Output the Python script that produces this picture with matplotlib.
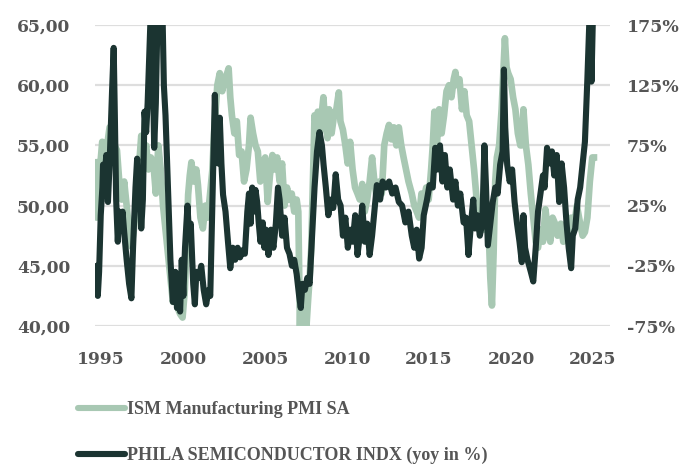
import matplotlib
matplotlib.use("Agg")
import matplotlib.pyplot as plt
from matplotlib.ticker import FixedLocator, FuncFormatter

plt.rcParams['axes.unicode_minus'] = False

# ---------------- data ----------------
ism_dates = [1994.66, 1994.73, 1994.83, 1994.93, 1995.07, 1995.22, 1995.37, 1995.52, 1995.67, 1995.82,
             1995.97, 1996.11, 1996.26, 1996.41, 1996.56, 1996.71, 1996.85, 1997.00, 1997.15, 1997.30,
             1997.45, 1997.60, 1997.75, 1997.89, 1998.04, 1998.19, 1998.34, 1998.49, 1998.64, 1998.78,
             1998.93, 1999.08, 1999.23, 1999.38, 1999.52, 1999.67, 1999.82, 1999.97, 2000.11, 2000.21,
             2000.31, 2000.41, 2000.51, 2000.66, 2000.81, 2000.91, 2001.06, 2001.21, 2001.36, 2001.51,
             2001.65, 2001.79, 2001.89, 2001.99, 2002.09, 2002.24, 2002.39, 2002.54, 2002.69, 2002.78,
             2002.88, 2002.98, 2003.13, 2003.28, 2003.42, 2003.57, 2003.72, 2003.87, 2004.02, 2004.12,
             2004.27, 2004.42, 2004.56, 2004.71, 2004.86, 2005.01, 2005.16, 2005.30, 2005.45, 2005.60,
             2005.74, 2005.89, 2006.04, 2006.19, 2006.34, 2006.49, 2006.63, 2006.78, 2006.93, 2007.03,
             2007.13, 2007.18, 2007.27, 2007.37, 2007.47, 2007.52, 2007.62, 2007.72, 2007.82, 2007.92,
             2008.02, 2008.12, 2008.22, 2008.31, 2008.41, 2008.56, 2008.66, 2008.81, 2008.91, 2009.06,
             2009.21, 2009.35, 2009.50, 2009.60, 2009.75, 2009.90, 2010.04, 2010.19, 2010.34, 2010.49,
             2010.64, 2010.78, 2010.93, 2011.08, 2011.23, 2011.38, 2011.53, 2011.67, 2011.82, 2011.97,
             2012.12, 2012.27, 2012.42, 2012.56, 2012.71, 2012.86, 2013.01, 2013.16, 2013.31, 2013.45,
             2013.60, 2013.75, 2013.95, 2014.10, 2014.25, 2014.39, 2014.54, 2014.68, 2014.83, 2014.98,
             2015.13, 2015.23, 2015.33, 2015.48, 2015.62, 2015.77, 2015.92, 2016.07, 2016.22, 2016.37,
             2016.51, 2016.61, 2016.71, 2016.86, 2017.01, 2017.16, 2017.30, 2017.45, 2017.60, 2017.75,
             2017.90, 2018.05, 2018.20, 2018.34, 2018.49, 2018.64, 2018.74, 2018.84, 2018.94, 2019.04,
             2019.14, 2019.28, 2019.43, 2019.53, 2019.63, 2019.73, 2019.83, 2019.98, 2020.13, 2020.27,
             2020.42, 2020.57, 2020.66, 2020.76, 2020.91, 2021.06, 2021.21, 2021.36, 2021.51, 2021.65,
             2021.80, 2021.95, 2022.10, 2022.25, 2022.40, 2022.54, 2022.69, 2022.84, 2023.04, 2023.19,
             2023.38, 2023.52, 2023.67, 2023.82, 2024.02, 2024.22, 2024.37, 2024.51, 2024.66, 2024.81,
             2024.96, 2025.06]
ism_pmi = [53.6, 49.0, 51.0, 53.0, 55.3, 54.0, 55.0, 56.5, 56.7, 55.0,
           54.6, 52.0, 50.5, 52.0, 50.0, 48.0, 46.6, 48.0, 50.0, 53.0,
           55.8, 54.0, 55.0, 53.0, 54.0, 53.5, 51.0, 55.0, 53.0, 50.0,
           48.0, 46.0, 44.0, 42.0, 43.0, 41.5, 41.0, 40.7, 43.0, 46.5,
           50.9, 52.5, 53.6, 52.0, 53.0, 51.7, 49.0, 48.1, 50.0, 49.0,
           51.0, 53.0, 56.0, 58.0, 60.0, 61.0, 59.5, 60.5, 61.0, 61.4,
           59.0, 57.5, 56.0, 57.0, 54.2, 54.5, 52.0, 53.0, 55.0, 57.3,
           56.0, 55.0, 54.5, 52.0, 53.5, 54.0, 50.3, 52.5, 54.2, 53.0,
           54.0, 52.0, 53.5, 50.0, 51.5, 50.5, 51.0, 49.5, 50.5, 49.5,
           39.8, 43.0, 42.0, 41.0, 43.0, 39.8, 42.0, 44.0, 46.5, 52.0,
           57.5, 56.5, 57.8, 55.8, 57.0, 59.0, 57.0, 55.6, 58.0, 56.0,
           57.5, 58.0, 59.4, 57.0, 56.3, 55.0, 53.5, 55.3, 53.0, 51.5,
           51.0, 50.5, 51.8, 49.5, 50.5, 52.0, 54.0, 52.0, 50.5, 52.0,
           51.0, 55.0, 56.0, 56.7, 55.5, 56.5, 55.0, 56.5, 55.0, 54.0,
           53.0, 52.0, 51.0, 50.0, 49.5, 49.0, 51.0, 50.5, 51.5, 50.5,
           53.0, 55.0, 57.8, 55.0, 58.0, 56.0, 57.5, 59.5, 60.0, 59.0,
           60.5, 61.1, 60.0, 60.5, 58.0, 59.5, 57.5, 57.0, 55.0, 53.0,
           50.6, 50.0, 49.0, 48.0, 49.0, 48.0, 44.0, 41.7, 46.0, 52.0,
           54.0, 55.0, 58.0, 61.0, 63.9, 61.5, 61.0, 60.5, 59.0, 58.0,
           56.0, 55.0, 55.0, 58.0, 55.0, 53.4, 51.0, 49.0, 47.0, 46.5,
           48.0, 47.0, 49.7, 48.0, 47.0, 49.0, 48.5, 47.5, 48.5, 47.0,
           48.5, 47.5, 49.0, 48.0, 50.0, 48.5, 47.5, 47.8, 49.0, 52.0,
           54.0, 54.0]

sox_dates = [1994.66, 1994.73, 1994.80, 1994.88, 1994.98, 1995.08, 1995.12, 1995.22, 1995.32, 1995.42,
             1995.52, 1995.67, 1995.77, 1995.84, 1995.92, 1996.02, 1996.11, 1996.21, 1996.31, 1996.41,
             1996.56, 1996.71, 1996.85, 1996.95, 1997.10, 1997.20, 1997.27, 1997.35, 1997.45, 1997.55,
             1997.65, 1997.75, 1997.84, 1997.94, 1998.04, 1998.14, 1998.24, 1998.34, 1998.44, 1998.54,
             1998.64, 1998.74, 1998.83, 1998.93, 1999.08, 1999.23, 1999.38, 1999.53, 1999.63, 1999.73,
             1999.82, 1999.92, 2000.02, 2000.12, 2000.27, 2000.37, 2000.47, 2000.62, 2000.72, 2000.81,
             2000.96, 2001.11, 2001.26, 2001.41, 2001.56, 2001.66, 2001.76, 2001.84, 2001.94, 2002.01,
             2002.14, 2002.24, 2002.34, 2002.44, 2002.59, 2002.74, 2002.88, 2003.03, 2003.18, 2003.33,
             2003.48, 2003.63, 2003.77, 2003.92, 2004.02, 2004.12, 2004.22, 2004.32, 2004.42, 2004.52,
             2004.62, 2004.72, 2004.86, 2004.96, 2005.06, 2005.21, 2005.36, 2005.51, 2005.66, 2005.79,
             2005.89, 2006.04, 2006.19, 2006.34, 2006.49, 2006.64, 2006.78, 2006.93, 2007.08, 2007.18,
             2007.28, 2007.43, 2007.58, 2007.72, 2007.87, 2008.02, 2008.17, 2008.32, 2008.47, 2008.57,
             2008.71, 2008.86, 2009.01, 2009.16, 2009.31, 2009.46, 2009.61, 2009.75, 2009.90, 2010.05,
             2010.20, 2010.35, 2010.50, 2010.64, 2010.78, 2010.93, 2011.08, 2011.23, 2011.38, 2011.53,
             2011.67, 2011.82, 2012.02, 2012.17, 2012.37, 2012.57, 2012.76, 2012.96, 2013.16, 2013.36,
             2013.56, 2013.75, 2013.95, 2014.10, 2014.25, 2014.40, 2014.55, 2014.68, 2014.88, 2015.03,
             2015.23, 2015.38, 2015.53, 2015.67, 2015.82, 2015.97, 2016.12, 2016.27, 2016.47, 2016.61,
             2016.76, 2016.91, 2017.11, 2017.26, 2017.41, 2017.56, 2017.70, 2017.80, 2017.95, 2018.10,
             2018.25, 2018.38, 2018.48, 2018.59, 2018.74, 2018.89, 2019.04, 2019.19, 2019.34, 2019.49,
             2019.57, 2019.65, 2019.77, 2019.92, 2020.07, 2020.22, 2020.37, 2020.52, 2020.66, 2020.76,
             2020.86, 2021.01, 2021.21, 2021.36, 2021.51, 2021.65, 2021.80, 2021.95, 2022.05, 2022.20,
             2022.35, 2022.50, 2022.64, 2022.79, 2022.94, 2023.09, 2023.24, 2023.39, 2023.52, 2023.67,
             2023.77, 2023.92, 2024.07, 2024.22, 2024.37, 2024.51, 2024.66, 2024.81, 2024.91, 2025.01]
sox_yoy = [-45, -25, -50, -30, 17, 40, 59, 50, 67, 28,
           60, 120, 156, 100, 30, -5, 20, 5, 20, 3,
           -20, -40, -52, -10, 40, 64, 40, 45, 6, 30,
           103, 86, 110, 150, 190, 150, 73, 110, 180, 200,
           170, 190, 125, 100, 40, -20, -55, -30, -60, -40,
           -63, -20, -50, -10, 25, 0, 10, -40, -57, -30,
           -35, -25, -45, -57, -45, -50, 10, 60, 117, 80,
           60, 98, 60, 34, 20, -5, -27, -10, -20, -10,
           -18, -12, -15, 20, 35, 10, 40, 20, 38, 28,
           10, -5, 11, -10, 5, -16, 5, -10, 10, 40,
           30, 0, 15, -10, -15, -25, -20, -32, -50, -60,
           -40, -45, -35, -40, 0, 40, 70, 86, 75, 59,
           40, 17, 30, 23, 51, 30, 25, 0, 15, -10,
           5, -5, 17, -16, 0, 25, -5, 10, -16, 0,
           20, 42, 30, 45, 40, 45, 35, 40, 28, 25,
           11, 20, 0, -10, 5, -19, -10, 17, 30, 42,
           40, 73, 55, 75, 45, 67, 40, 55, 30, 45,
           25, 35, 11, 15, -16, 10, 30, 6, 17, 0,
           10, 75, 40, -8, 10, 28, 40, 35, 59, 70,
           138, 90, 59, 45, 55, 28, 10, -5, -22, 17,
           -10, -20, -30, -38, -10, 20, 35, 50, 40, 73,
           60, 70, 50, 67, 28, 60, 40, 10, -10, -27,
           0, 6, 30, 40, 60, 78, 130, 190, 128, 190]

x_ticks = [1995, 2000, 2005, 2010, 2015, 2020, 2025]
left_ticks = [40, 45, 50, 55, 60, 65]
right_ticks = [-75, -25, 25, 75, 125, 175]

ism_label = "ISM Manufacturing PMI SA"
sox_label = "PHILA SEMICONDUCTOR INDX (yoy in %)"

# ---------------- styling ----------------
light = "#a8c8b3"
dark = "#1b3431"
txt = "#555555"
grid_c = "#dedede"

fig = plt.figure(figsize=(6.91, 4.69), dpi=100)
ax = fig.add_axes([95 / 691, 1 - 326 / 469, 515 / 691, 301 / 469])
ax2 = ax.twinx()

ax.set_zorder(1)
ax2.set_zorder(2)
ax.patch.set_visible(False)

ax.set_xlim(1994.63, 2026.04)
ax.set_ylim(40, 65)
ax2.set_ylim(-75, 175)

for y in left_ticks:
    ax.axhline(y, color=grid_c, lw=1.6, zorder=0)

l1, = ax.plot(ism_dates, ism_pmi, color=light, lw=4.8, solid_joinstyle="round", zorder=2)
l2, = ax2.plot(sox_dates, sox_yoy, color=dark, lw=4.4, solid_joinstyle="round", zorder=3)

for a in (ax, ax2):
    for s in a.spines.values():
        s.set_visible(False)
    a.tick_params(length=0)

ax.xaxis.set_major_locator(FixedLocator(x_ticks))
ax.xaxis.set_major_formatter(FuncFormatter(lambda v, p: f"{int(round(v))}"))
ax.yaxis.set_major_locator(FixedLocator(left_ticks))
ax.yaxis.set_major_formatter(FuncFormatter(lambda v, p: f"{v:.2f}".replace(".", ",")))
ax2.yaxis.set_major_locator(FixedLocator(right_ticks))
ax2.yaxis.set_major_formatter(FuncFormatter(lambda v, p: f"{int(round(v))}%"))

ax.tick_params(axis="y", pad=18)
ax.tick_params(axis="x", pad=18)
ax2.tick_params(axis="y", pad=12)
for lab in ax.get_xticklabels() + ax.get_yticklabels():
    lab.set_fontfamily("DejaVu Serif")
    lab.set_fontweight("bold")
    lab.set_fontsize(12.3)
    lab.set_color(txt)
for lab in ax2.get_yticklabels():
    lab.set_fontfamily("DejaVu Serif")
    lab.set_fontweight("bold")
    lab.set_fontsize(12.5)
    lab.set_color(txt)

leg = fig.legend([l1, l2], [ism_label, sox_label], loc="upper left",
                 bbox_to_anchor=(78 / 691, 1 - 401 / 469), frameon=False,
                 prop=dict(family="Liberation Serif", weight="bold", size=13),
                 handlelength=2.6, handletextpad=0.1, labelspacing=1.6,
                 borderaxespad=0, borderpad=0)
for t in leg.get_texts():
    t.set_color(txt)
for h in leg.get_lines():
    h.set_linewidth(4.4)
    h.set_solid_capstyle("round")

fig.savefig("out.png", dpi=100, facecolor="white")
